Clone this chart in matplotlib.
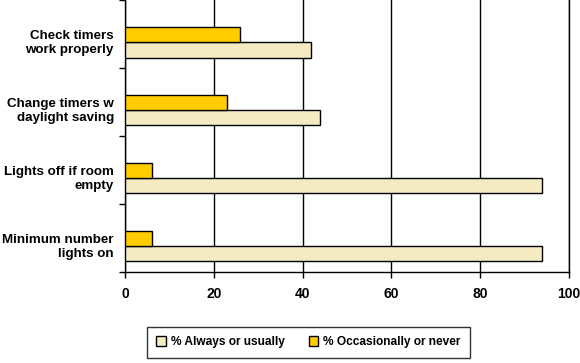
import matplotlib.pyplot as plt
import numpy as np

plt.rcParams['font.family'] = ['Liberation Sans', 'DejaVu Sans']

categories = ["Check timers\nwork properly", "Change timers w\ndaylight saving",
              "Lights off if room\nempty", "Minimum number\nlights on"]
always_usually = [42, 44, 94, 94]
occasionally_never = [26, 23, 6, 6]
series_names = ["% Always or usually", "% Occasionally or never"]
xticks = [0, 20, 40, 60, 80, 100]

fig = plt.figure(figsize=(5.8, 3.63), dpi=100)
ax = fig.add_axes([0.2155, 0.2515, 0.7655, 0.7485])

y = np.arange(len(categories))
h = 0.225
b1 = ax.barh(y + 0.235, always_usually, height=h, color="#F5EBC2",
             edgecolor="black", linewidth=1, label=series_names[0], zorder=3)
b2 = ax.barh(y + 0.01, occasionally_never, height=h, color="#FFCC00",
             edgecolor="black", linewidth=1, label=series_names[1], zorder=3)

ax.set_xlim(0, 100)
ax.set_ylim(len(categories) - 0.5, -0.5)
ax.set_xticks(xticks)
ax.set_xticklabels([str(t) for t in xticks], fontweight="bold", fontsize=10)
ax.xaxis.grid(True, color="black", linewidth=1, zorder=0)
ax.set_axisbelow(True)

# category labels between tick marks on the boundaries
ax.set_yticks(np.arange(len(categories) + 1) - 0.5)
ax.set_yticklabels([])
ax.set_yticks(y + 0.1, minor=True)
ax.set_yticklabels(categories, minor=True, fontweight="bold", fontsize=9.6,
                   ha="right", linespacing=1.2)
ax.tick_params(axis="y", which="minor", length=0, pad=8)
ax.tick_params(axis="y", which="major", length=4, direction="out", width=1)
ax.tick_params(axis="x", length=4, direction="out", width=1, pad=7)

ax.spines["top"].set_visible(False)
for s in ["left", "bottom", "right"]:
    ax.spines[s].set_linewidth(1)

leg = fig.legend(handles=[b1, b2], labels=series_names, loc="lower left",
                 bbox_to_anchor=(0.243, -0.002), ncol=2, frameon=True,
                 fancybox=False, edgecolor="black", fontsize=8.6,
                 handlelength=0.8, handleheight=0.8, handletextpad=0.4,
                 columnspacing=2.0, borderpad=0.8)
leg.get_frame().set_linewidth(1)
for t in leg.get_texts():
    t.set_fontweight("bold")

fig.savefig("out.png", dpi=100)
